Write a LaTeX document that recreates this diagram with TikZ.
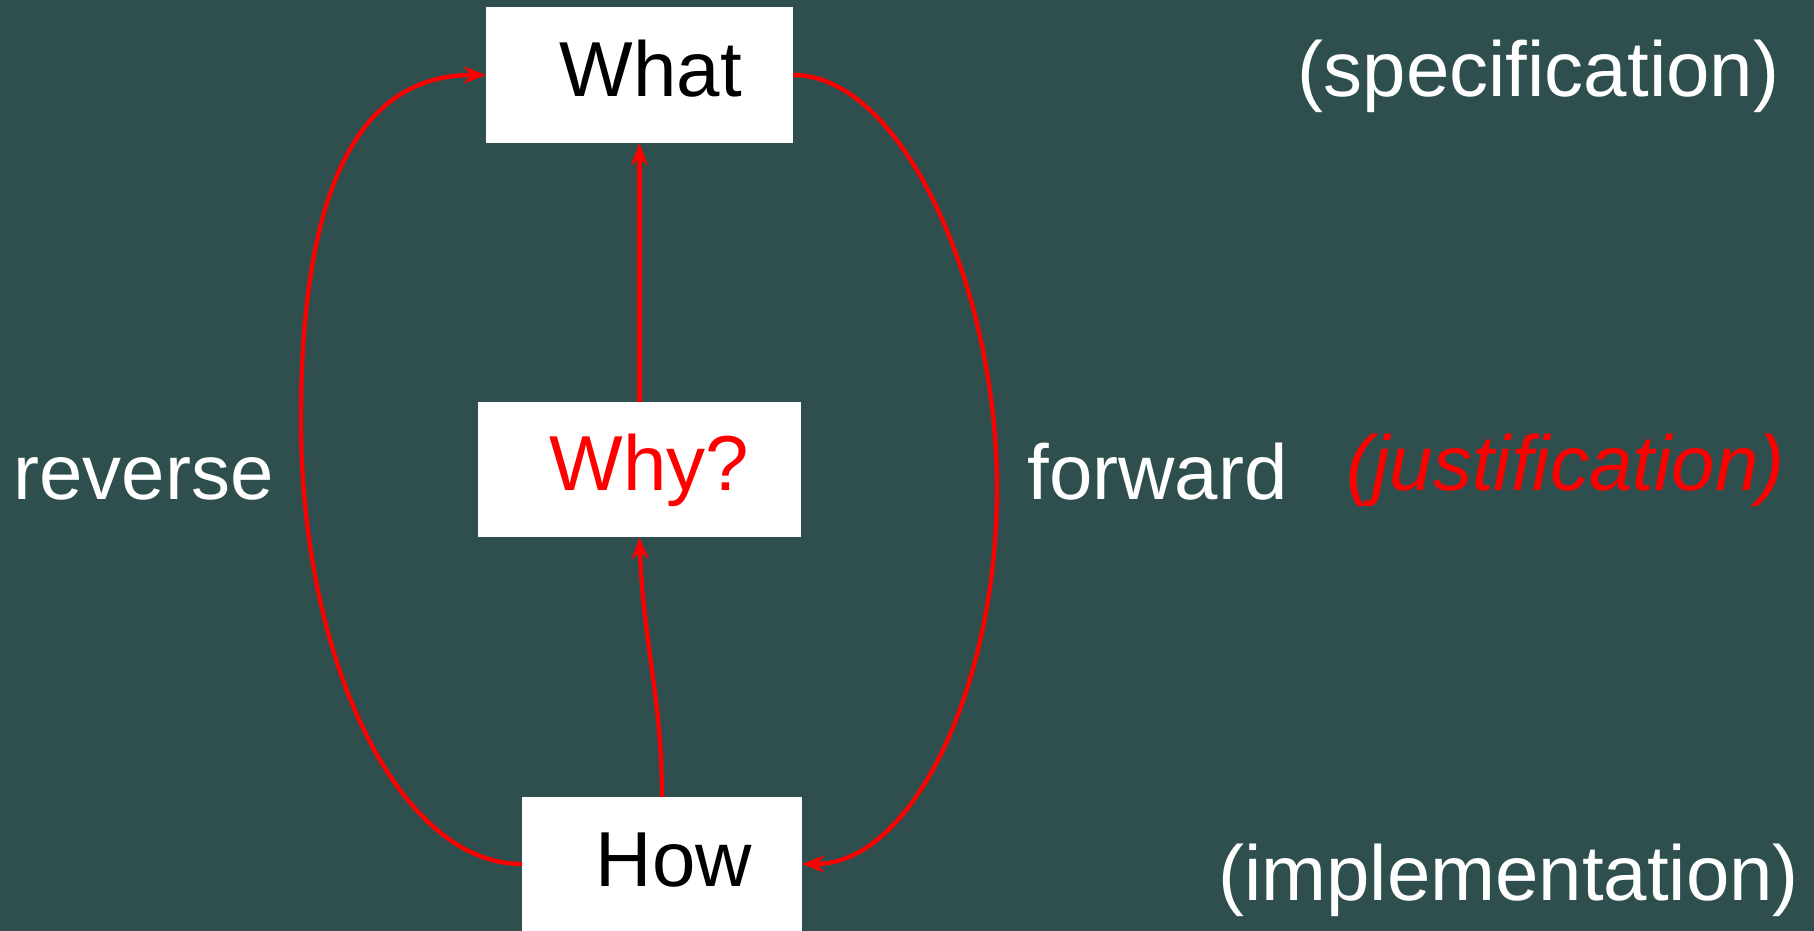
\documentclass[tikz,border=0pt]{standalone}
\usepackage{fontspec}
\setmainfont{Liberation Sans}
\usetikzlibrary{arrows.meta}
\definecolor{slate}{RGB}{47,79,79}
\definecolor{arrowred}{RGB}{255,0,0}
\begin{document}
\begin{tikzpicture}[x=1pt,y=-1pt,
  box/.style={rectangle,fill=white,draw=none,inner sep=0pt},
  word/.style={anchor=base,inner sep=0pt,font=\fontsize{78}{90}\selectfont},
  conn/.style={draw=arrowred,line width=4.3pt,
    -{Stealth[length=22pt,width=17pt,inset=7pt]}}]
  % background
  \fill[slate] (0,0) rectangle (1814,931);
  \useasboundingbox (0,0) rectangle (1814,931);

  % boxes
  \node[box,minimum width=307pt,minimum height=136pt] (what) at (639.5,75) {};
  \node[box,minimum width=323pt,minimum height=135pt] (why) at (639.5,469.5) {};
  \node[box,minimum width=280pt,minimum height=134pt] (how) at (662,864) {};

  % box texts
  \node[word,text=black] (whattext) at (651,97) {What};
  \node[word,text=arrowred] (whytext) at (649.5,490) {Why?};
  \node[word,text=black] (howtext) at (674,886) {How};

  % side labels
  \node[word,text=white] (spec) at (1538.5,97) {(specification)};
  \node[word,text=white] (rev) at (143.5,499) {reverse};
  \node[word,text=white] (fwd) at (1157.5,499) {forward};
  \node[word,text=arrowred,font=\fontsize{78}{90}\selectfont\itshape] (just) at (1565.5,490) {(justification)};
  \node[word,text=white] (impl) at (1508.5,900) {(implementation)};

  % turning points of the outer loops
  \coordinate (lpt) at (301,420);
  \coordinate (rpt) at (997,488);

  % connectors
  \draw[conn] (why.north) -- (what.south);
  \draw[conn] (how.north) .. controls (662,700) and (643,640) .. (why.south);
  \draw[conn] (how.west) .. controls (400,864) and (301,664) .. (lpt)
                         .. controls (301,185) and (360,75) .. (what.west);
  \draw[conn] (what.east) .. controls (903,75) and (997,288) .. (rpt)
                          .. controls (997,688) and (912,864) .. (how.east);
\end{tikzpicture}
\end{document}
